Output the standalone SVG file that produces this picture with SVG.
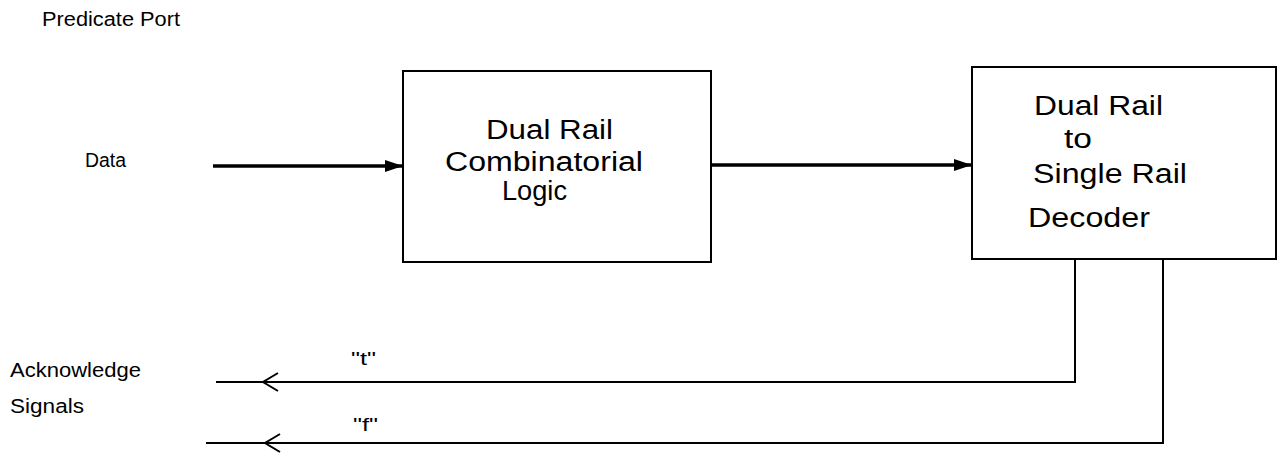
<svg xmlns="http://www.w3.org/2000/svg" width="1285" height="454" viewBox="0 0 1285 454">
  <style>
    .lbl { font-family: "Liberation Sans", Arial, sans-serif; font-size: 20px; fill: #000; }
    .big { font-family: "Liberation Sans", Arial, sans-serif; font-size: 27px; fill: #000; }
    .q { font-family: "Liberation Sans", Arial, sans-serif; font-size: 18px; fill: #000; }
    .box { fill: #fff; stroke: #000; stroke-width: 2; }
    .bus { fill: none; stroke: #000; stroke-width: 3.5; }
    .wire { fill: none; stroke: #000; stroke-width: 2; }
  </style>
  <defs>
    <marker id="solid" markerWidth="18" markerHeight="12" refX="18" refY="6" orient="auto" markerUnits="userSpaceOnUse">
      <path d="M0,0 L18,6 L0,12 Z" fill="#000"/>
    </marker>
    <marker id="open" markerWidth="18" markerHeight="20" refX="1" refY="10" orient="auto" markerUnits="userSpaceOnUse">
      <path d="M16,1 L1,10 L16,19" fill="none" stroke="#000" stroke-width="2"/>
    </marker>
  </defs>
  <rect width="1285" height="454" fill="#fff"/>

  <g id="labels">
    <text class="lbl" x="42" y="26" textLength="138" lengthAdjust="spacingAndGlyphs">Predicate Port</text>
    <text class="lbl" x="85" y="167" textLength="41" lengthAdjust="spacingAndGlyphs">Data</text>
    <text class="lbl" x="10" y="377" textLength="131" lengthAdjust="spacingAndGlyphs">Acknowledge</text>
    <text class="lbl" x="10" y="413" textLength="74" lengthAdjust="spacingAndGlyphs">Signals</text>
  </g>

  <g id="logic">
    <rect class="box" x="403" y="71" width="308" height="191"/>
    <text class="big" x="486" y="139" textLength="127" lengthAdjust="spacingAndGlyphs">Dual Rail</text>
    <text class="big" x="445" y="171" textLength="198" lengthAdjust="spacingAndGlyphs">Combinatorial</text>
    <text class="big" x="502" y="200" textLength="65" lengthAdjust="spacingAndGlyphs">Logic</text>
  </g>

  <g id="decoder">
    <rect class="box" x="972" y="67" width="304" height="192"/>
    <text class="big" x="1034" y="115" textLength="129" lengthAdjust="spacingAndGlyphs">Dual Rail</text>
    <text class="big" x="1064" y="148" textLength="28" lengthAdjust="spacingAndGlyphs">to</text>
    <text class="big" x="1033" y="183" textLength="154" lengthAdjust="spacingAndGlyphs">Single Rail</text>
    <text class="big" x="1028" y="227" textLength="122" lengthAdjust="spacingAndGlyphs">Decoder</text>
  </g>

  <g id="connectors">
    <path class="bus" d="M213,166 H403" marker-end="url(#solid)"/>
    <path class="bus" d="M711,165 H972" marker-end="url(#solid)"/>
    <path class="wire" d="M1075,259 V382 H263" />
    <path class="wire" d="M263,382 H216"/>
    <path d="M278,373 L263,382 L278,391" fill="none" stroke="#000" stroke-width="2"/>
    <path class="wire" d="M1163,259 V443 H206"/>
    <path d="M280,434 L265,443 L280,452" fill="none" stroke="#000" stroke-width="2"/>
    <text class="q" x="351" y="365" textLength="25" lengthAdjust="spacingAndGlyphs">"t"</text>
    <text class="q" x="353" y="431" textLength="25" lengthAdjust="spacingAndGlyphs">"f"</text>
  </g>
</svg>
